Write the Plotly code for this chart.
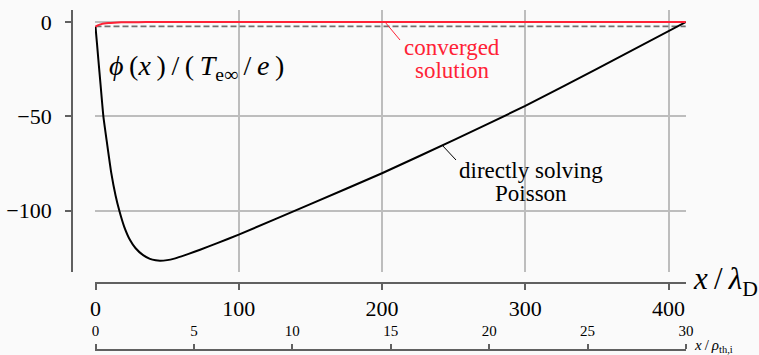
import plotly.graph_objects as go

# ---- data ----
x_direct = [0, 1, 2, 3.5, 5.5, 8, 11, 14, 16.6, 20, 24, 28, 33, 38, 42, 45, 50, 55, 60, 65, 73, 85, 100,
            150, 200, 250, 300, 350, 412]
phi_direct = [-2.5, -11, -20, -33, -50, -64, -80, -92, -100, -108.5, -115.5, -120, -123.5, -125.6,
              -126.4, -126.6, -126.3, -125.5, -124.3, -123.0, -120.8, -117.3, -112.8,
              -96.6, -80.2, -62.6, -44.5, -24.8, 0]

x_conv = [0, 1, 2, 4, 6, 9, 13, 18, 25, 35, 50, 412]
phi_conv = [-2.5, -2.0, -1.6, -1.1, -0.8, -0.5, -0.3, -0.15, -0.07, -0.02, 0, 0]

x_ref = [0, 412]
phi_ref = [-2.3, -2.3]

x_ticks = [0, 100, 200, 300, 400]
y_ticks = [0, -50, -100]
rho_ticks = [0, 5, 10, 15, 20, 25, 30]
lambda_per_rho = 412.2 / 30

# ---- layout geometry ----
W, H = 759, 355
def px(x): return x / W
def py(y): return 1 - y / H

x_range = [-0.35, 412.2]
y_range = [-132.6, 6.4]

SERIF = "Liberation Serif"
BG = "#fafafa"
SPINE = "#606060"
GRID = "#bdbdbd"
RED = "#ff2236"
TS = "\u2009"  # thin space

fig = go.Figure()
fig.add_trace(go.Scatter(x=x_ref, y=phi_ref, mode="lines",
                         line=dict(color="#707070", width=1.8, dash="6px,3px"),
                         hoverinfo="skip", showlegend=False))
fig.add_trace(go.Scatter(x=x_direct, y=phi_direct, mode="lines",
                         line=dict(color="black", width=2, shape="spline", smoothing=0.5),
                         showlegend=False))
fig.add_trace(go.Scatter(x=x_conv, y=phi_conv, mode="lines",
                         line=dict(color=RED, width=2, shape="spline", smoothing=0.5),
                         showlegend=False))
# invisible trace for the secondary x axis
fig.add_trace(go.Scatter(x=[0], y=[0], xaxis="x2", yaxis="y", mode="markers",
                         marker=dict(opacity=0), hoverinfo="skip", showlegend=False))

fig.update_layout(
    width=W, height=H,
    margin=dict(l=0, r=0, t=0, b=0, autoexpand=False),
    paper_bgcolor=BG, plot_bgcolor=BG,
    font=dict(family=SERIF, color="black"),
    xaxis=dict(domain=[px(95), px(686)], range=x_range, anchor="free", position=py(283),
               tickvals=x_ticks, ticks="outside", ticklen=6, tickwidth=1.5, tickcolor=SPINE,
               showline=True, linecolor=SPINE, linewidth=1.8, automargin=False,
               showgrid=True, gridcolor=GRID, gridwidth=1.5, zeroline=False,
               tickfont=dict(family=SERIF, size=22), ticklabelstandoff=0),
    yaxis=dict(domain=[py(272), py(10)], range=y_range, anchor="free", position=px(72),
               tickvals=y_ticks, ticks="outside", ticklen=6, tickwidth=1.5, tickcolor=SPINE,
               showline=True, linecolor=SPINE, linewidth=1.8, automargin=False,
               showgrid=True, gridcolor=GRID, gridwidth=1.5, zeroline=False,
               tickfont=dict(family=SERIF, size=22), ticklabelstandoff=9),
    xaxis2=dict(overlaying="x", anchor="free", position=py(350), side="top",
                range=[x_range[0] / lambda_per_rho, x_range[1] / lambda_per_rho],
                tickvals=rho_ticks, ticks="outside", ticklen=5, tickwidth=1.5, tickcolor=SPINE,
                showline=True, linecolor=SPINE, linewidth=1.8, showgrid=False, zeroline=False,
                automargin=False,
                tickfont=dict(family=SERIF, size=15), ticklabelstandoff=2),
)

ann = [
    dict(x=px(107), y=py(68), xanchor="left", yanchor="middle",
         text=f"<i>ϕ</i>{TS}(<i>x</i>{TS}){TS}/{TS}({TS}<i>T</i><sub>e∞</sub>{TS}/{TS}<i>e</i>{TS})",
         font=dict(size=28)),
    dict(x=px(691), y=py(281), xanchor="left", yanchor="middle",
         text=f"<i>x</i>{TS}/{TS}<i>λ</i><sub>D</sub>", font=dict(size=31)),
    dict(x=px(692), y=py(346), xanchor="left", yanchor="middle",
         text=f"<i>x</i>{TS}/{TS}<i>ρ</i><sub>th,i</sub>", font=dict(size=15)),
    dict(x=px(452), y=py(47), xanchor="center", yanchor="middle",
         text="converged", font=dict(size=23, color=RED)),
    dict(x=px(452), y=py(71), xanchor="center", yanchor="middle",
         text="solution", font=dict(size=23, color=RED)),
    dict(x=px(531), y=py(170), xanchor="center", yanchor="middle",
         text="directly solving", font=dict(size=23)),
    dict(x=px(531), y=py(193), xanchor="center", yanchor="middle",
         text="Poisson", font=dict(size=23)),
]
for a in ann:
    a.update(xref="paper", yref="paper", showarrow=False)
    a["font"].setdefault("family", SERIF)
    a["font"].setdefault("color", "black")
fig.update_layout(annotations=ann)

fig.update_layout(shapes=[
    dict(type="line", xref="paper", yref="paper", x0=px(385), y0=py(22), x1=px(400), y1=py(40),
         line=dict(color=RED, width=1)),
    dict(type="line", xref="paper", yref="paper", x0=px(442), y0=py(145), x1=px(456), y1=py(160),
         line=dict(color="black", width=1)),
])

fig.write_html("out.html")
